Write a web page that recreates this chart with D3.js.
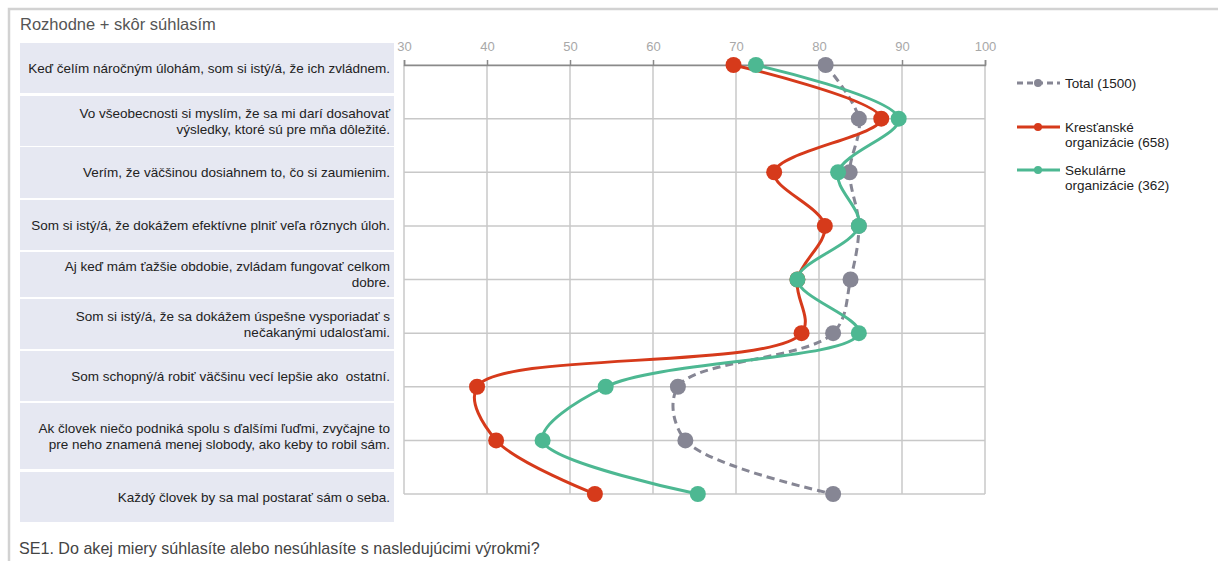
<!DOCTYPE html>
<html>
<head>
<meta charset="utf-8">
<script src="https://cdn.jsdelivr.net/npm/d3@7"></script>
<style>
  html, body { margin: 0; padding: 0; background: #fff; }
  svg { display: block; font-family: "Liberation Sans", Arial, sans-serif; }
  text { white-space: pre; }
</style>
</head>
<body>
<svg id="chart" width="1218" height="561"></svg>
<script>
// ---------- data ----------
const categories = [
  "Keď čelím náročným úlohám, som si istý/á, že ich zvládnem.",
  "Vo všeobecnosti si myslím, že sa mi darí dosahovať\nvýsledky, ktoré sú pre mňa dôležité.",
  "Verím, že väčšinou dosiahnem to, čo si zaumienim.",
  "Som si istý/á, že dokážem efektívne plniť veľa rôznych úloh.",
  "Aj keď mám ťažšie obdobie, zvládam fungovať celkom\ndobre.",
  "Som si istý/á, že sa dokážem úspešne vysporiadať s\nnečakanými udalosťami.",
  "Som schopný/á robiť väčšinu vecí lepšie ako  ostatní.",
  "Ak človek niečo podniká spolu s ďalšími ľuďmi, zvyčajne to\npre neho znamená menej slobody, ako keby to robil sám.",
  "Každý človek by sa mal postarať sám o seba."
];
const totalValues     = [80.8, 84.8, 83.7, 84.8, 83.8, 81.7, 63.0, 63.9, 81.7];
const christianValues = [69.7, 87.5, 74.6, 80.7, 77.4, 77.9, 38.8, 41.1, 53.0];
const secularValues   = [72.4, 89.6, 82.3, 84.8, 77.4, 84.8, 54.3, 46.7, 65.4];
const seriesNames = ["Total (1500)", "Kresťanské\norganizácie (658)", "Sekulárne\norganizácie (362)"];
const tickValues = [30, 40, 50, 60, 70, 80, 90, 100];
const titleText = "Rozhodne + skôr súhlasím";
const footnoteText = "SE1. Do akej miery súhlasíte alebo nesúhlasíte s nasledujúcimi výrokmi?";

// ---------- layout (not data) ----------
const boxTops    = [43, 96, 147, 200, 252, 299, 351, 403, 472];
const boxBottoms = [93, 146, 198, 250, 297, 349, 401, 469, 522];
const colors = { total: "#868694", christian: "#d63a1b", secular: "#4db892" };

const svg = d3.select("#chart");

// outer frame
svg.append("path")
  .attr("d", "M9,600 L9,9 L1230,9")
  .attr("fill", "none").attr("stroke", "#d2d2d2").attr("stroke-width", 2.5);

// title
svg.append("text").attr("x", 20).attr("y", 30)
  .attr("font-size", 16.5).attr("fill", "#555").text(titleText);

// footnote
svg.append("text").attr("x", 19).attr("y", 554)
  .attr("font-size", 16.1).attr("fill", "#444").text(footnoteText);

// scales
const x = d3.scaleLinear().domain([30, 100]).range([404, 985]);
const y = d3.scalePoint().domain(d3.range(categories.length)).range([65, 494]);

// label boxes
const boxes = svg.append("g");
categories.forEach((c, i) => {
  boxes.append("rect")
    .attr("x", 20).attr("y", boxTops[i])
    .attr("width", 374).attr("height", boxBottoms[i] - boxTops[i])
    .attr("fill", "#e6e8f2");
  const lines = c.split("\n");
  const cy = (boxTops[i] + boxBottoms[i]) / 2;
  const lh = 16;
  const t = boxes.append("text")
    .attr("text-anchor", "end").attr("font-size", 13.5).attr("fill", "#222");
  lines.forEach((ln, k) => {
    t.append("tspan").attr("x", 390)
      .attr("y", cy + (k - (lines.length - 1) / 2) * lh)
      .attr("dy", "0.35em").text(ln);
  });
});

// gridlines
const grid = svg.append("g");
grid.selectAll("line.v").data(tickValues).enter().append("line")
  .attr("x1", d => x(d)).attr("x2", d => x(d))
  .attr("y1", y(0)).attr("y2", y(categories.length - 1))
  .attr("stroke", "#c8c8c8").attr("stroke-width", 1.5);
grid.selectAll("line.h").data(d3.range(categories.length)).enter().append("line")
  .attr("x1", x(30)).attr("x2", x(100))
  .attr("y1", d => y(d)).attr("y2", d => y(d))
  .attr("stroke", "#c8c8c8").attr("stroke-width", 1.5);

// top axis
const axis = d3.axisTop(x).tickValues(tickValues).tickSize(5).tickSizeOuter(5).tickPadding(9);
const ag = svg.append("g").attr("transform", `translate(0,${y(0)})`).call(axis);
ag.select(".domain").attr("stroke", "#8a8a8a").attr("stroke-width", 1.5);
ag.selectAll(".tick line").attr("stroke", "#8a8a8a").attr("stroke-width", 1.5);
ag.selectAll(".tick text").attr("fill", "#a8a8a8").attr("font-size", 13)
  .attr("font-family", "Liberation Sans, Arial, sans-serif");

// series
const series = [
  { values: totalValues, color: colors.total, dash: "8,5" },
  { values: christianValues, color: colors.christian, dash: null },
  { values: secularValues, color: colors.secular, dash: null }
];
const line = d3.line()
  .x(d => x(d.v)).y(d => y(d.i))
  .curve(d3.curveCatmullRom.alpha(0.5));

series.forEach(s => {
  const pts = s.values.map((v, i) => ({ v, i }));
  const g = svg.append("g");
  g.append("path").datum(pts)
    .attr("d", line).attr("fill", "none")
    .attr("stroke", s.color).attr("stroke-width", 3)
    .attr("stroke-dasharray", s.dash);
  g.selectAll("circle").data(pts).enter().append("circle")
    .attr("cx", d => x(d.v)).attr("cy", d => y(d.i)).attr("r", 8)
    .attr("fill", s.color);
});

// legend
const legendY = [83, 127, 170];
const leg = svg.append("g");
series.forEach((s, k) => {
  const ly = legendY[k];
  leg.append("line").attr("x1", 1017).attr("x2", 1060).attr("y1", ly).attr("y2", ly)
    .attr("stroke", s.color).attr("stroke-width", 3).attr("stroke-dasharray", s.dash ? "6,4" : null);
  leg.append("circle").attr("cx", 1038).attr("cy", ly).attr("r", 4).attr("fill", s.color);
  const t = leg.append("text").attr("font-size", 13.5).attr("fill", "#222");
  seriesNames[k].split("\n").forEach((ln, j) => {
    t.append("tspan").attr("x", 1065).attr("y", ly + j * 15.5).attr("dy", "0.35em").text(ln);
  });
});
</script>
</body>
</html>
